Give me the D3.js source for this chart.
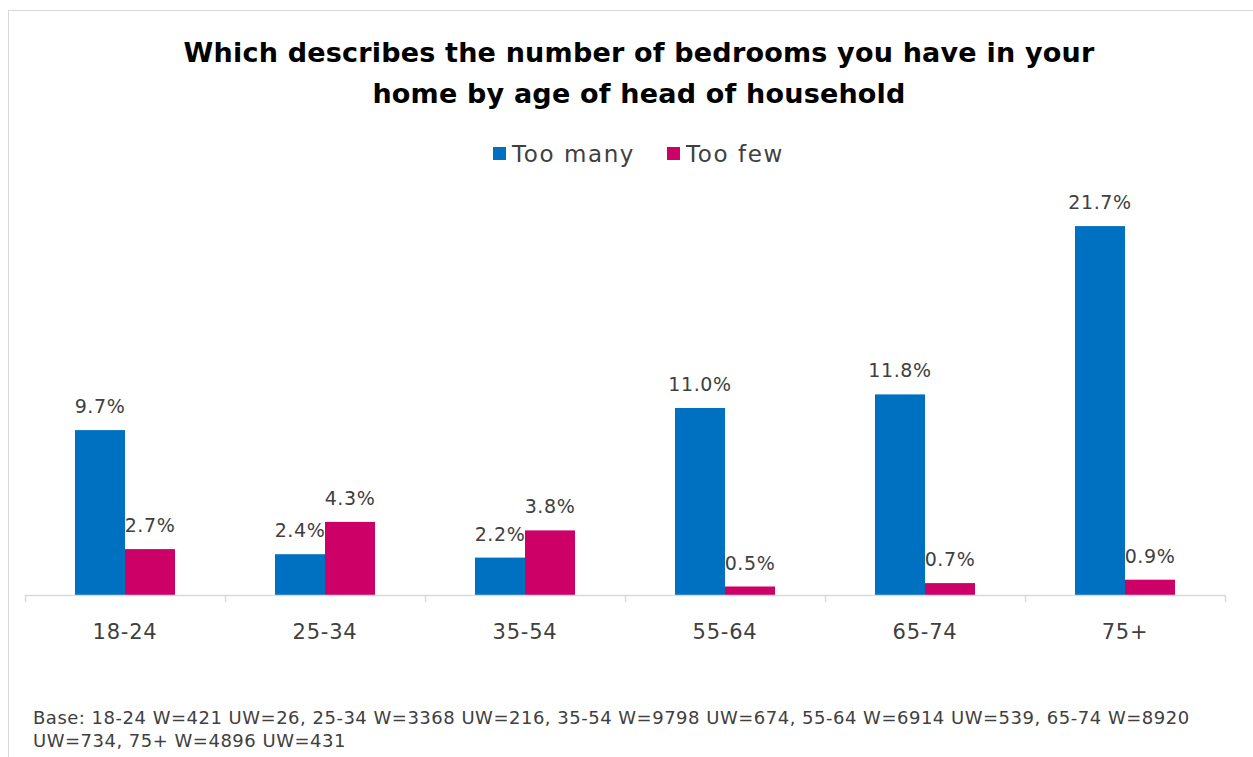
<!DOCTYPE html>
<html>
<head>
<meta charset="utf-8">
<script src="https://cdn.jsdelivr.net/npm/d3@7"></script>
<style>
body { margin: 0; background: white; }
text { font-family: "Century Gothic", "DejaVu Sans", sans-serif; }
</style>
</head>
<body>
<div id="chart"></div>
<script>
// chart data
const categories = ["18-24", "25-34", "35-54", "55-64", "65-74", "75+"]
const seriesNames = ["Too many", "Too few"]
const tooMany = [9.7, 2.4, 2.2, 11.0, 11.8, 21.7]
const tooFew = [2.7, 4.3, 3.8, 0.5, 0.7, 0.9]
const titleLines = ["Which describes the number of bedrooms you have in your", "home by age of head of household"]
const baseLines = ["Base: 18-24 W=421 UW=26, 25-34 W=3368 UW=216, 35-54 W=9798 UW=674, 55-64 W=6914 UW=539, 65-74 W=8920", "UW=734, 75+ W=4896 UW=431"]

var WIDTH = 1253;
var HEIGHT = 757;
var LEFT = 25;
var RIGHT = 1225;
var BOTTOM = 595;
const colors = {"Too many": "#0070C0", "Too few": "#CC0066"}

const svg = d3.select("#chart").append("svg").attr("width", WIDTH).attr("height", HEIGHT)

// frame
svg.append("rect").attr("x", 8.5).attr("y", 10.5).attr("width", WIDTH).attr("height", HEIGHT)
  .attr("fill", "none").attr("stroke", "#d9d9d9")

// title
titleLines.forEach((t, i) => {
  svg.append("text").attr("x", 639).attr("y", 62 + i * 41).attr("text-anchor", "middle")
    .attr("font-size", "27px").attr("font-weight", "bold").attr("letter-spacing", "0.2px").attr("fill", "#000").text(t)
})

// legend
const legend = svg.append("g")
const legendX = [493, 667]
seriesNames.forEach((s, i) => {
  legend.append("rect").attr("x", legendX[i]).attr("y", 147).attr("width", 13).attr("height", 13).attr("fill", colors[s])
  legend.append("text").attr("x", legendX[i] + 19).attr("y", 162).attr("font-size", "23px")
    .attr("letter-spacing", "1.6px").attr("fill", "#404040").text(s)
})

// scales
const x_scale = d3.scaleBand().domain(categories).range([LEFT, RIGHT]).padding(0)
const x_inner = d3.scaleBand().domain(seriesNames).range([x_scale.bandwidth() / 4, x_scale.bandwidth() * 3 / 4])
const y_scale = d3.scaleLinear().domain([0, 24]).range([BOTTOM, BOTTOM - 24 * 17])

const rows = categories.map((c, i) => ({cat: c, "Too many": tooMany[i], "Too few": tooFew[i]}))

const groups = svg.selectAll("g.grp").data(rows).enter().append("g").attr("class", "grp")
  .attr("transform", d => "translate(" + x_scale(d.cat) + ",0)")

groups.selectAll("rect").data(d => seriesNames.map(s => ({s: s, v: d[s]}))).enter().append("rect")
  .attr("x", d => x_inner(d.s)).attr("y", d => y_scale(d.v))
  .attr("width", x_inner.bandwidth()).attr("height", d => BOTTOM - y_scale(d.v))
  .attr("fill", d => colors[d.s])

groups.selectAll("text").data(d => seriesNames.map(s => ({s: s, v: d[s]}))).enter().append("text")
  .attr("x", d => x_inner(d.s) + x_inner.bandwidth() / 2).attr("y", d => y_scale(d.v) - 17)
  .attr("text-anchor", "middle").attr("font-size", "19px").attr("letter-spacing", "0.6px").attr("fill", "#404040")
  .text(d => d.v.toFixed(1) + "%")

// x axis
const gen_x = d3.axisBottom(x_scale).tickSize(0).tickPadding(44)
const xAxis = svg.append("g").attr("transform", "translate(0," + BOTTOM + ")").call(gen_x)
xAxis.select(".domain").remove()
xAxis.selectAll("text").attr("font-size", "21px").attr("letter-spacing", "0.8px").attr("fill", "#404040")
  .style("font-family", "'Century Gothic', 'DejaVu Sans', sans-serif").attr("dy", "0")
svg.append("line").attr("x1", LEFT).attr("x2", RIGHT).attr("y1", BOTTOM + 0.5).attr("y2", BOTTOM + 0.5)
  .attr("stroke", "#d9d9d9").attr("stroke-width", 1.5)
const bounds = categories.map(c => x_scale(c)).concat([RIGHT])
svg.selectAll("line.tick-b").data(bounds).enter().append("line").attr("class", "tick-b")
  .attr("x1", d => d + 0.5).attr("x2", d => d + 0.5).attr("y1", BOTTOM).attr("y2", BOTTOM + 7)
  .attr("stroke", "#d9d9d9").attr("stroke-width", 1.5)

// base note
baseLines.forEach((t, i) => {
  svg.append("text").attr("x", 33).attr("y", 724 + i * 23).attr("font-size", "18px")
    .attr("letter-spacing", "0.5px").attr("fill", "#404040").text(t)
})
</script>
</body>
</html>
